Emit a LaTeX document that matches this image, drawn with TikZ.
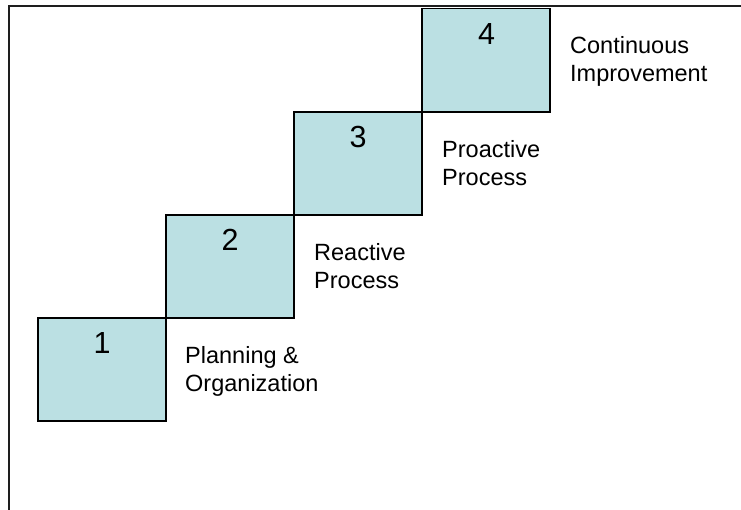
\documentclass[tikz,border=0pt]{standalone}
\usepackage{fontspec}
\setmainfont{Liberation Sans}
\definecolor{stepfill}{RGB}{187,224,227}
\definecolor{framecol}{RGB}{30,30,30}
\tikzset{
  stepbox/.style={draw=black, line width=1.6pt, fill=stepfill},
  stepnum/.style={font=\fontsize{30.5}{36}\selectfont, anchor=base, inner sep=0pt},
  steplabel/.style={font=\fontsize{23.5}{28.4}\selectfont, anchor=north west, align=left, inner sep=0pt},
  frameline/.style={draw=framecol, line width=2.4pt}
}
\begin{document}
\begin{tikzpicture}[x=1pt,y=-1pt]
\useasboundingbox (0,0) rectangle (741,510);
% frame (top and left edges visible)
\coordinate (fTL) at (9,5.8);
\coordinate (fTR) at (741,5.8);
\coordinate (fBL) at (9,510);
\draw[frameline] (fTR) -- (fTL) -- (fBL);
% boxes
\draw[stepbox] (38,318) rectangle (166,421);
\draw[stepbox] (166,215) rectangle (294,318);
\draw[stepbox] (294,112) rectangle (422,215);
\draw[stepbox] (422,8.5) rectangle (550,112);
% numbers
\node[stepnum] (n1) at (102,353.5) {1};
\node[stepnum] (n2) at (230,250.5) {2};
\node[stepnum] (n3) at (358,147.5) {3};
\node[stepnum] (n4) at (486.5,44.5) {4};
% labels
\node[steplabel] (l1) at (185,343.3) {\rule{0pt}{20pt}Planning \&\\Organization};
\node[steplabel] (l2) at (314,240.3) {\rule{0pt}{20pt}Reactive\\Process};
\node[steplabel] (l3) at (442,137.3) {\rule{0pt}{20pt}Proactive\\Process};
\node[steplabel] (l4) at (570,33.3) {\rule{0pt}{20pt}Continuous\\Improvement};
\end{tikzpicture}
\end{document}
